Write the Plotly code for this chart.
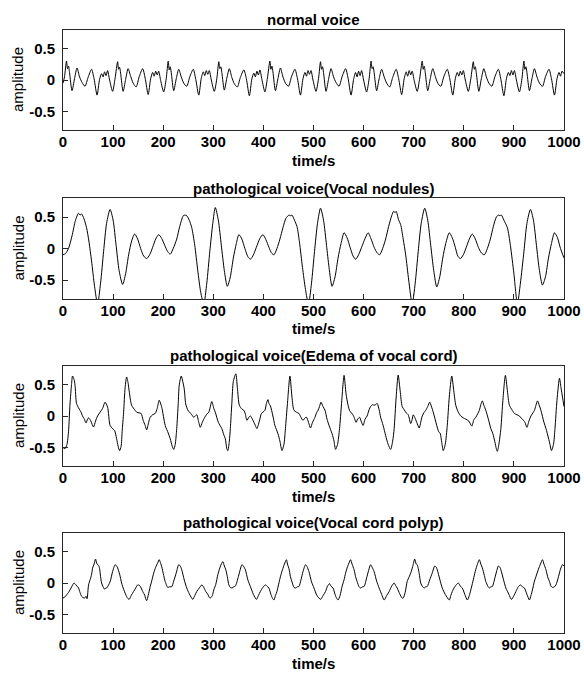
import plotly.graph_objects as go

# ---------------- data ----------------
titles = ["normal voice",
          "pathological voice(Vocal nodules)",
          "pathological voice(Edema of vocal cord)",
          "pathological voice(Vocal cord polyp)"]

t_normal = [0, 3,
    7, 9, 11, 13, 18, 23, 28, 33, 38, 44, 50, 57, 62, 68, 73, 77, 80, 83, 86, 89, 93, 99, 104,
    109, 111, 113, 115, 120, 125, 130, 135, 140, 146, 152, 159, 164, 170, 175, 179, 182, 185, 188, 191, 195, 201, 206,
    210, 212, 214, 216, 221, 226, 231, 236, 241, 247, 253, 260, 265, 271, 276, 280, 283, 286, 289, 292, 296, 302, 307,
    311, 313, 315, 317, 322, 327, 332, 337, 342, 348, 354, 361, 366, 372, 377, 381, 384, 387, 390, 393, 397, 403, 408,
    413, 415, 417, 419, 424, 429, 434, 439, 444, 450, 456, 463, 468, 474, 479, 483, 486, 489, 492, 495, 499, 505, 510,
    514, 516, 518, 520, 525, 530, 535, 540, 545, 551, 557, 564, 569, 575, 580, 584, 587, 590, 593, 596, 600, 606, 611,
    615, 617, 619, 621, 626, 631, 636, 641, 646, 652, 658, 665, 670, 676, 681, 685, 688, 691, 694, 697, 701, 707, 712,
    717, 719, 721, 723, 728, 733, 738, 743, 748, 754, 760, 767, 772, 778, 783, 787, 790, 793, 796, 799, 803, 809, 814,
    819, 821, 823, 825, 830, 835, 840, 845, 850, 856, 862, 869, 874, 880, 885, 889, 892, 895, 898, 901, 905, 911, 916,
    920, 922, 924, 926, 931, 936, 941, 946, 951, 957, 963, 970, 975, 981, 986, 990, 993, 996, 1000]
v_normal = [-0.05, 0.05,
    0.30, 0.18, 0.22, 0.12, -0.17, 0.02, 0.19, 0.05, -0.04, -0.10, 0.04, 0.17, 0.02, -0.24, 0.01, 0.10, 0.05, 0.13, 0.07, 0.15, 0.00, -0.18, 0.03,
    0.29, 0.17, 0.20, 0.11, -0.18, 0.01, 0.18, 0.06, -0.05, -0.11, 0.05, 0.18, 0.03, -0.23, 0.02, 0.12, 0.06, 0.14, 0.08, 0.14, -0.01, -0.19, 0.02,
    0.30, 0.16, 0.21, 0.12, -0.17, 0.02, 0.17, 0.05, -0.05, -0.10, 0.05, 0.17, 0.01, -0.24, 0.03, 0.13, 0.07, 0.15, 0.09, 0.15, 0.00, -0.18, 0.02,
    0.29, 0.18, 0.21, 0.12, -0.16, 0.03, 0.18, 0.04, -0.06, -0.11, 0.04, 0.16, 0.02, -0.25, 0.02, 0.11, 0.05, 0.14, 0.08, 0.16, 0.01, -0.19, 0.03,
    0.30, 0.17, 0.22, 0.13, -0.17, 0.02, 0.19, 0.05, -0.05, -0.10, 0.05, 0.17, 0.02, -0.24, 0.02, 0.12, 0.06, 0.15, 0.09, 0.15, 0.00, -0.18, 0.02,
    0.29, 0.17, 0.21, 0.12, -0.18, 0.01, 0.18, 0.05, -0.04, -0.10, 0.05, 0.18, 0.03, -0.24, 0.01, 0.12, 0.05, 0.14, 0.07, 0.15, 0.00, -0.19, 0.02,
    0.30, 0.18, 0.21, 0.12, -0.17, 0.02, 0.17, 0.05, -0.05, -0.11, 0.04, 0.17, 0.02, -0.23, 0.02, 0.13, 0.06, 0.15, 0.08, 0.14, -0.01, -0.18, 0.03,
    0.30, 0.17, 0.22, 0.12, -0.17, 0.02, 0.18, 0.06, -0.05, -0.10, 0.05, 0.17, 0.02, -0.24, 0.02, 0.12, 0.06, 0.14, 0.08, 0.15, 0.00, -0.18, 0.02,
    0.29, 0.17, 0.21, 0.11, -0.18, 0.02, 0.18, 0.05, -0.05, -0.10, 0.05, 0.17, 0.01, -0.25, 0.02, 0.12, 0.07, 0.15, 0.08, 0.15, 0.00, -0.19, 0.02,
    0.30, 0.17, 0.21, 0.12, -0.17, 0.02, 0.18, 0.05, -0.05, -0.10, 0.05, 0.17, 0.02, -0.24, 0.02, 0.12, 0.06, 0.14, 0.10]

t_nodules = [0, 5, 11, 18, 25, 31, 34, 37, 42, 47, 52, 57, 63, 69, 75, 81, 87, 94, 100, 106, 112, 119, 125, 131,
    137, 143, 149, 155, 161, 167, 173, 179, 185, 191, 197, 203, 209, 214, 220, 227, 233, 240, 243, 247, 252, 257,
    263, 269, 275, 281, 287, 293, 299, 304, 310, 316, 322, 328, 334, 340, 346, 351, 357, 363, 369, 374, 380, 386,
    393, 399, 405, 411, 416, 421, 427, 433, 439, 445, 451, 454, 457, 462, 467, 472, 478, 484, 490, 496, 502, 508,
    514, 520, 526, 531, 537, 543, 549, 555, 561, 567, 573, 579, 584, 590, 596, 603, 609, 615, 621, 627, 632, 638,
    644, 650, 656, 660, 663, 665, 670, 674, 679, 684, 690, 697, 703, 709, 715, 722, 728, 734, 740, 746, 752, 758,
    764, 771, 777, 783, 788, 793, 799, 805, 811, 817, 823, 829, 835, 841, 847, 853, 859, 865, 869, 872, 875, 880,
    887, 893, 900, 907, 913, 920, 926, 933, 939, 945, 951, 957, 963, 969, 975, 981, 987, 993, 1000]
v_nodules = [-0.10, -0.08, 0.00, 0.20, 0.45, 0.56, 0.53, 0.55, 0.47, 0.33, 0.10, -0.20, -0.60, -0.88, -0.55, -0.05, 0.40, 0.62, 0.45, 0.05, -0.35, -0.57, -0.40, -0.10,
    0.12, 0.23, 0.15, 0.00, -0.12, -0.16, -0.10, 0.02, 0.15, 0.22, 0.16, 0.05, -0.05, -0.09, 0.00, 0.15, 0.35, 0.52, 0.53, 0.52, 0.45, 0.33,
    0.05, -0.35, -0.70, -0.88, -0.55, -0.05, 0.40, 0.65, 0.45, 0.05, -0.35, -0.60, -0.45, -0.15, 0.08, 0.22, 0.15, 0.00, -0.13, -0.17, -0.10, 0.02,
    0.16, 0.22, 0.14, 0.02, -0.07, -0.10, 0.00, 0.15, 0.33, 0.48, 0.53, 0.52, 0.53, 0.45, 0.35, 0.10, -0.30, -0.65, -0.88, -0.55, -0.05, 0.40,
    0.64, 0.45, 0.05, -0.30, -0.60, -0.45, -0.15, 0.08, 0.25, 0.17, 0.02, -0.12, -0.17, -0.10, 0.02, 0.16, 0.25, 0.15, 0.02, -0.07, -0.10, 0.00,
    0.15, 0.35, 0.52, 0.59, 0.57, 0.59, 0.45, 0.38, 0.15, -0.10, -0.50, -0.88, -0.55, -0.05, 0.40, 0.64, 0.45, 0.05, -0.35, -0.61, -0.45, -0.15,
    0.08, 0.25, 0.17, 0.02, -0.12, -0.16, -0.10, 0.02, 0.15, 0.23, 0.15, 0.02, -0.07, -0.10, 0.00, 0.15, 0.35, 0.50, 0.53, 0.52, 0.53, 0.45,
    0.33, 0.05, -0.40, -0.88, -0.55, -0.05, 0.40, 0.62, 0.45, 0.05, -0.35, -0.58, -0.45, -0.15, 0.08, 0.25, 0.17, 0.00, -0.15]

t_edema = [0, 4, 8, 11, 14, 17, 19, 22, 24, 27, 31, 34, 36, 39, 42, 46, 49, 51, 55, 58, 61, 65, 69, 74, 79, 84, 89, 94, 99,
    103, 107, 110, 113, 116, 118, 121, 124, 127, 130, 132, 137, 144, 147, 152, 156, 160, 164, 167, 171, 174, 179, 184, 188,
    192, 197, 204, 210, 214, 218, 221, 224, 227, 230, 232, 236, 239, 242, 245, 250, 253, 257, 261, 264, 267, 271, 274, 278,
    283, 287, 291, 297, 301, 304, 310, 317, 321, 324, 327, 329, 332, 334, 337, 340, 345, 348, 352, 357, 361, 364, 367, 371,
    374, 378, 381, 384, 387, 392, 396, 399, 403, 406, 409, 411, 414, 419, 423, 429, 433, 437, 441, 444, 448, 453, 457, 461,
    466, 471, 475, 479, 483, 486, 490, 494, 498, 503, 506, 509, 512, 515, 519, 523, 527, 531, 537, 541, 544, 548, 552, 556,
    561, 565, 569, 573, 577, 581, 585, 588, 592, 595, 599, 603, 607, 611, 614, 618, 621, 624, 627, 631, 634, 639, 644, 649,
    654, 658, 661, 665, 669, 673, 677, 681, 685, 689, 694, 697, 699, 702, 706, 711, 714, 717, 721, 724, 728, 732, 735, 739,
    746, 750, 753, 756, 759, 763, 767, 771, 776, 780, 784, 789, 794, 799, 804, 810, 816, 820, 824, 828, 831, 834, 837, 840,
    844, 849, 854, 858, 862, 865, 867, 870, 874, 878, 883, 887, 891, 896, 901, 906, 911, 914, 917, 922, 926, 930, 934, 938,
    941, 944, 947, 951, 954, 960, 964, 969, 972, 975, 979, 982, 986, 991, 994, 997, 1000]
v_edema = [-0.50, -0.52, -0.45, -0.25, 0.19, 0.50, 0.635, 0.58, 0.49, 0.20, 0.13, 0.09, 0.06, 0.00, -0.04, -0.11, -0.05, -0.03, -0.07, -0.13, -0.175, -0.08, 0.00, 0.06, 0.12, 0.22, 0.14, -0.15, -0.20,
    -0.23, -0.36, -0.48, -0.55, -0.48, -0.25, 0.06, 0.45, 0.62, 0.52, 0.40, 0.17, 0.09, 0.06, 0.05, 0.04, -0.07, -0.15, -0.22, -0.10, -0.02, 0.02, 0.04, 0.12,
    0.25, 0.14, -0.15, -0.27, -0.36, -0.48, -0.53, -0.45, -0.20, 0.20, 0.49, 0.635, 0.55, 0.43, 0.19, 0.08, 0.06, 0.02, -0.02, 0.00, 0.02, -0.10, -0.18, -0.10,
    -0.02, 0.03, 0.06, 0.23, 0.12, 0.06, -0.10, -0.20, -0.30, -0.36, -0.52, -0.55, -0.40, -0.20, 0.20, 0.55, 0.67, 0.45, 0.17, 0.11, 0.09, 0.03, -0.07, -0.02,
    0.00, -0.05, -0.10, -0.15, -0.20, -0.08, 0.04, 0.06, 0.09, 0.20, 0.26, 0.20, 0.16, 0.00, -0.15, -0.28, -0.40, -0.55, -0.45, -0.20, 0.20, 0.635, 0.30, 0.09,
    0.06, 0.04, -0.02, -0.07, -0.03, -0.02, -0.10, -0.19, -0.10, -0.02, 0.05, 0.09, 0.15, 0.22, 0.15, 0.09, -0.05, -0.15, -0.28, -0.40, -0.53, -0.45, -0.20, 0.20,
    0.645, 0.35, 0.17, 0.07, 0.04, -0.02, -0.10, -0.05, -0.02, -0.08, -0.15, -0.05, 0.00, 0.10, 0.15, 0.18, 0.17, 0.18, 0.20, 0.10, -0.02, -0.15, -0.31, -0.45,
    -0.53, -0.40, -0.20, 0.30, 0.65, 0.40, 0.15, 0.10, 0.05, 0.02, -0.12, -0.05, 0.02, -0.02, -0.10, -0.19, -0.10, 0.00, 0.06, 0.09, 0.15, 0.22, 0.16, 0.06,
    -0.15, -0.25, -0.28, -0.42, -0.55, -0.45, -0.15, 0.30, 0.635, 0.40, 0.17, 0.06, 0.00, -0.03, -0.05, -0.08, -0.16, -0.06, -0.02, 0.04, 0.09, 0.18, 0.24, 0.17,
    0.09, -0.05, -0.20, -0.28, -0.41, -0.52, -0.56, -0.45, -0.20, 0.25, 0.645, 0.40, 0.17, 0.10, 0.04, 0.02, 0.00, -0.03, -0.05, -0.10, -0.18, -0.08, 0.00, 0.05,
    0.09, 0.17, 0.24, 0.16, 0.09, -0.10, -0.20, -0.35, -0.45, -0.55, -0.45, -0.20, 0.25, 0.60, 0.45, 0.30, 0.15]

t_polyp = [0, 4, 7, 11, 14, 18, 22, 26, 31, 34, 37, 40, 43, 46, 48, 51, 54, 56, 58, 59, 62, 65, 67, 69, 71, 73, 75, 77, 80,
    83, 85, 87, 91, 94, 99, 104, 107, 109, 113, 117, 121, 124, 128, 132, 136, 141, 145, 149, 153, 156, 160, 163, 165, 167,
    170, 174, 177, 181, 185, 189, 192, 195, 197, 201, 204, 207, 209, 213, 217, 221, 226, 231, 234, 237, 242, 247, 252, 259,
    263, 267, 272, 277, 281, 285, 289, 292, 294, 298, 301, 305, 309, 313, 316, 319, 322, 325, 328, 331, 334, 337, 341, 344,
    350, 354, 357, 360, 364, 369, 374, 380, 386, 390, 394, 399, 404, 407, 411, 415, 418, 421, 424, 427, 431, 434, 438, 442,
    446, 448, 451, 454, 457, 461, 464, 468, 471, 475, 479, 484, 487, 491, 496, 501, 507, 514, 519, 524, 528, 532, 535, 539,
    543, 546, 549, 553, 557, 561, 564, 568, 571, 574, 577, 581, 584, 587, 591, 594, 598, 601, 606, 610, 614, 617, 621, 626,
    631, 636, 641, 646, 651, 656, 661, 664, 667, 672, 677, 679, 683, 687, 691, 694, 698, 702, 705, 707, 711, 714, 718, 721,
    724, 727, 732, 737, 742, 745, 747, 752, 757, 763, 771, 774, 777, 782, 789, 793, 797, 802, 807, 811, 814, 818, 822, 826,
    831, 834, 837, 841, 844, 848, 851, 854, 857, 862, 866, 869, 872, 874, 879, 884, 890, 895, 900, 904, 908, 913, 917, 921,
    926, 931, 934, 937, 941, 944, 949, 953, 957, 960, 964, 968, 971, 974, 977, 981, 984, 989, 993, 997, 1000]
v_polyp = [-0.24, -0.22, -0.19, -0.15, -0.11, -0.05, 0.00, -0.03, -0.08, -0.15, -0.21, -0.23, -0.24, -0.21, -0.25, -0.03, 0.05, 0.10, 0.18, 0.235, 0.30, 0.38, 0.32, 0.29, 0.28, 0.23, 0.10, 0.00, -0.06,
    -0.10, -0.08, -0.08, -0.03, 0.02, 0.18, 0.29, 0.27, 0.24, 0.14, 0.00, -0.10, -0.16, -0.23, -0.26, -0.20, -0.135, -0.08, -0.03, -0.04, -0.08, -0.15, -0.19, -0.25, -0.28,
    -0.20, -0.06, 0.03, 0.156, 0.25, 0.32, 0.37, 0.31, 0.26, 0.12, 0.02, -0.04, -0.07, -0.06, -0.06, 0.03, 0.16, 0.29, 0.27, 0.21, 0.05, -0.08, -0.17, -0.26,
    -0.20, -0.135, -0.08, -0.03, -0.07, -0.135, -0.18, -0.23, -0.24, -0.20, -0.11, -0.02, 0.13, 0.24, 0.30, 0.34, 0.27, 0.21, 0.10, -0.03, -0.07, -0.08, -0.06, -0.05,
    0.10, 0.22, 0.29, 0.27, 0.21, 0.05, -0.056, -0.18, -0.26, -0.20, -0.135, -0.07, -0.03, -0.05, -0.08, -0.18, -0.24, -0.27, -0.20, -0.135, 0.00, 0.10, 0.21, 0.30,
    0.37, 0.30, 0.23, 0.10, 0.02, -0.07, -0.08, -0.06, -0.056, 0.05, 0.18, 0.29, 0.26, 0.18, 0.02, -0.08, -0.20, -0.26, -0.20, -0.135, -0.05, -0.01, -0.05, -0.08,
    -0.18, -0.24, -0.27, -0.20, -0.056, 0.05, 0.156, 0.26, 0.32, 0.37, 0.30, 0.21, 0.10, 0.024, -0.06, -0.08, -0.06, -0.056, 0.08, 0.20, 0.29, 0.25, 0.18, 0.03,
    -0.08, -0.18, -0.27, -0.20, -0.135, -0.05, 0.00, -0.04, -0.08, -0.17, -0.24, -0.24, -0.15, 0.024, 0.10, 0.156, 0.26, 0.38, 0.30, 0.29, 0.15, 0.00, -0.06, -0.08,
    -0.06, -0.056, 0.05, 0.16, 0.27, 0.25, 0.21, 0.06, -0.08, -0.18, -0.27, -0.20, -0.135, -0.06, 0.00, -0.05, -0.08, -0.18, -0.27, -0.20, -0.11, 0.02, 0.156, 0.27,
    0.37, 0.30, 0.24, 0.12, 0.024, -0.05, -0.08, -0.06, -0.056, 0.08, 0.20, 0.27, 0.25, 0.21, 0.06, -0.08, -0.18, -0.26, -0.20, -0.135, -0.07, -0.03, -0.06, -0.08,
    -0.18, -0.27, -0.20, -0.11, 0.03, 0.10, 0.22, 0.30, 0.37, 0.30, 0.21, 0.08, 0.024, -0.05, -0.07, -0.06, -0.03, 0.10, 0.22, 0.29, 0.27]

x_ticks = [0, 100, 200, 300, 400, 500, 600, 700, 800, 900, 1000]
y_ticks = [-0.5, 0, 0.5]
y_tick_labels = ["-0.5", "0", "0.5"]
x_label = "time/s"
y_label = "amplitude"

series = [(t_normal, v_normal), (t_nodules, v_nodules), (t_edema, v_edema), (t_polyp, v_polyp)]

# ---------------- layout ----------------
W, H = 584, 676
left, right = 63, 564
zero_px = [80, 248.5, 416, 583]
half = 50.4
FONT = "Liberation Sans, Arial, sans-serif"
AX = "#262626"

fig = go.Figure()
annotations = []
for i, (t, v) in enumerate(series):
    n = "" if i == 0 else str(i + 1)
    top = zero_px[i] - half
    bot = zero_px[i] + half
    fig.add_trace(go.Scatter(x=t, y=v, mode="lines", xaxis="x" + n, yaxis="y" + n,
                             line=dict(color="black", width=1, shape="spline", smoothing=0.7),
                             showlegend=False, hoverinfo="skip"))
    common = dict(showline=True, mirror=True, linecolor=AX, linewidth=1, ticks="inside",
                  ticklen=5, tickcolor=AX, showgrid=False, zeroline=False, automargin=False,
                  tickfont=dict(family=FONT, size=15, color="black", weight="bold"))
    fig.layout["xaxis" + n] = dict(domain=[left / W, right / W], range=[0, 1000],
                                   tickvals=x_ticks, anchor="y" + n,
                                   ticklabelstandoff=-2, **common)
    fig.layout["yaxis" + n] = dict(domain=[1 - bot / H, 1 - top / H], range=[-0.8, 0.8],
                                   tickvals=y_ticks, ticktext=y_tick_labels, anchor="x" + n,
                                   ticklabelstandoff=4, **common)
    annotations.append(dict(text="<b>" + titles[i] + "</b>", x=(left + right) / 2 / W,
                            y=1 - (top - 10) / H, xref="paper", yref="paper",
                            xanchor="center", yanchor="middle", showarrow=False,
                            font=dict(family=FONT, size=15, color="black")))
    annotations.append(dict(text="<b>" + x_label + "</b>", x=(left + right) / 2 / W,
                            y=1 - (bot + 30) / H, xref="paper", yref="paper",
                            xanchor="center", yanchor="middle", showarrow=False,
                            font=dict(family=FONT, size=15, color="black")))
    annotations.append(dict(text=y_label, x=18 / W, y=1 - zero_px[i] / H,
                            xref="paper", yref="paper", textangle=-90,
                            xanchor="center", yanchor="middle", showarrow=False,
                            font=dict(family=FONT, size=15, color="black")))

fig.update_layout(width=W, height=H, autosize=False,
                  margin=dict(l=0, r=0, t=0, b=0, autoexpand=False),
                  paper_bgcolor="white", plot_bgcolor="white",
                  annotations=annotations)
fig.write_html("out.html",
               config={"displayModeBar": False, "responsive": False},
               post_script="document.body.style.margin='0px';"
                           "document.documentElement.style.overflow='hidden';"
                           "document.body.style.overflow='hidden';")
